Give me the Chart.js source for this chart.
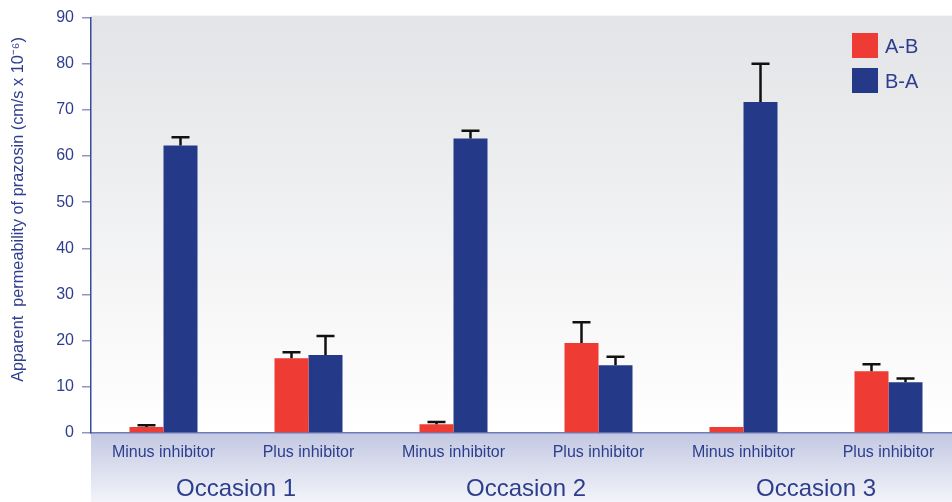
<!DOCTYPE html>
<html>
<head>
<meta charset="utf-8">
<script src="https://cdn.jsdelivr.net/npm/chart.js@4/dist/chart.umd.min.js"></script>
<style>
  html, body { margin: 0; padding: 0; background: #ffffff; overflow: hidden; }
  #wrap { position: relative; width: 961px; height: 502px; }
</style>
</head>
<body>
<div id="wrap"><canvas id="myChart"></canvas></div>
<script>
// categories and occasions
const categories = ['Minus inhibitor', 'Plus inhibitor', 'Minus inhibitor', 'Plus inhibitor', 'Minus inhibitor', 'Plus inhibitor'];
const occasions = ['Occasion 1', 'Occasion 2', 'Occasion 3'];

// A-B and B-A permeability, with upper error
const abValues = [1.3, 16.2, 1.9, 19.5, 1.3, 13.4];
const abErrors = [0.4, 1.3, 0.5, 4.5, 0, 1.5];
const baValues = [62.3, 16.9, 63.8, 14.7, 71.7, 11.0];
const baErrors = [1.8, 4.1, 1.7, 1.8, 8.3, 0.8];

const yTicks = [0, 10, 20, 30, 40, 50, 60, 70, 80, 90];

const textBlue = '#2e3e8e';
const fontFamily = '"Liberation Sans", Arial, Helvetica, sans-serif';

const backgroundPlugin = {
    id: 'backgrounds',
    beforeDraw(chart) {
        const { ctx, chartArea } = chart;
        const { left, top, right, bottom } = chartArea;
        ctx.save();
        let g = ctx.createLinearGradient(0, top - 2, 0, bottom);
        g.addColorStop(0, '#e3e4e7');
        g.addColorStop(1, '#ffffff');
        ctx.fillStyle = g;
        ctx.fillRect(left, top - 2, right - left, bottom - top + 2);
        // band under the axis
        g = ctx.createLinearGradient(0, bottom, 0, chart.height);
        g.addColorStop(0, '#c2c8e2');
        g.addColorStop(1, '#f3f4f9');
        ctx.fillStyle = g;
        ctx.fillRect(left, bottom, right - left, chart.height - bottom);
        ctx.restore();
    }
};

const errorBarPlugin = {
    id: 'errorBars',
    afterDatasetsDraw(chart) {
        const { ctx } = chart;
        const yScale = chart.scales.y;
        ctx.save();
        ctx.strokeStyle = '#111111';
        ctx.lineWidth = 2.5;
        chart.data.datasets.forEach((ds, di) => {
            const meta = chart.getDatasetMeta(di);
            meta.data.forEach((bar, i) => {
                const err = ds.errors[i];
                if (!err) return;
                const yTop = yScale.getPixelForValue(ds.data[i] + err);
                ctx.beginPath();
                ctx.moveTo(bar.x, bar.y);
                ctx.lineTo(bar.x, yTop);
                ctx.moveTo(bar.x - 9, yTop);
                ctx.lineTo(bar.x + 9, yTop);
                ctx.stroke();
            });
        });
        ctx.restore();
    }
};

const occasionPlugin = {
    id: 'occasions',
    afterDraw(chart) {
        const { ctx } = chart;
        const xScale = chart.scales.x;
        ctx.save();
        ctx.fillStyle = textBlue;
        ctx.font = '24px ' + fontFamily;
        ctx.textAlign = 'center';
        ctx.textBaseline = 'middle';
        occasions.forEach((label, i) => {
            const x = (xScale.getPixelForValue(i * 2) + xScale.getPixelForValue(i * 2 + 1)) / 2;
            ctx.fillText(label, x, 489);
        });

        // legend
        const lx = chart.chartArea.right - 109;
        ctx.font = '20px ' + fontFamily;
        ctx.textAlign = 'left';
        chart.data.datasets.forEach((ds, i) => {
            const ly = 33 + i * 35;
            ctx.fillStyle = ds.backgroundColor;
            ctx.fillRect(lx, ly, 26, 25);
            ctx.fillStyle = textBlue;
            ctx.fillText(ds.label, lx + 33, ly + 14);
        });
        ctx.restore();
    }
};

new Chart(document.getElementById('myChart'), {
    type: 'bar',
    data: {
        labels: categories,
        datasets: [
            {
                label: 'A-B',
                data: abValues,
                errors: abErrors,
                backgroundColor: '#ee3b33',
            },
            {
                label: 'B-A',
                data: baValues,
                errors: baErrors,
                backgroundColor: '#243a89',
            },
        ]
    },
    options: {
        responsive: true,
        maintainAspectRatio: false,
        animation: false,
        layout: { padding: { top: 17, left: 0, right: 0, bottom: 0 } },
        datasets: {
            bar: {
                categoryPercentage: 0.469,
                barPercentage: 1,
                borderWidth: 0,
            }
        },
        scales: {
            x: {
                grid: { display: false, drawTicks: false },
                border: { color: '#6f7db5', width: 1.5 },
                ticks: {
                    color: textBlue,
                    font: { family: fontFamily, size: 16 },
                    padding: 10,
                    maxRotation: 0,
                    autoSkip: false,
                },
                afterFit: s => { s.height = 69; },
            },
            y: {
                min: 0,
                max: 90,
                afterBuildTicks: s => { s.ticks = yTicks.map(v => ({ value: v })); },
                grid: { drawOnChartArea: false, drawTicks: true, tickLength: 9, color: '#8d97c4', lineWidth: 1.5 },
                border: { color: '#3a4a9a', width: 1.5 },
                ticks: {
                    color: textBlue,
                    font: { family: fontFamily, size: 16 },
                    padding: 8,
                },
                title: {
                    display: true,
                    text: '       Apparent  permeability of prazosin (cm/s x 10⁻⁶)',
                    color: textBlue,
                    font: { family: fontFamily, size: 16.3 },
                    padding: { top: 9, bottom: 0 },
                },
                afterFit: s => { s.width = 91; },
            }
        },
        plugins: {
            legend: { display: false },
            tooltip: { enabled: false },
        },
    },
    plugins: [backgroundPlugin, errorBarPlugin, occasionPlugin],
});
</script>
</body>
</html>
